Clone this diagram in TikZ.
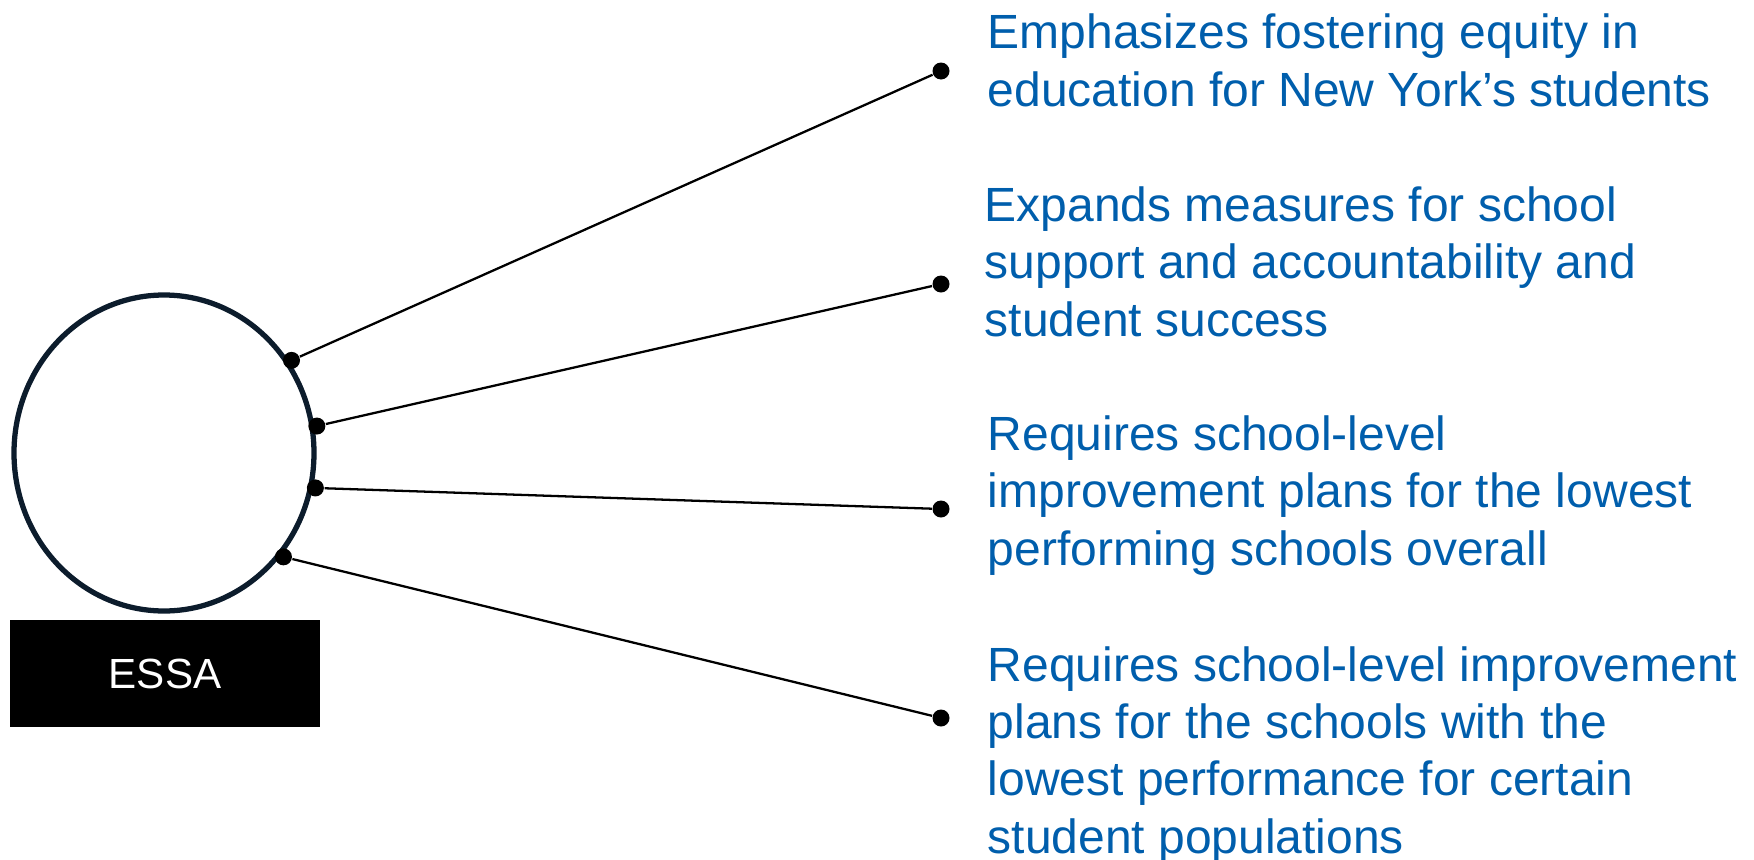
\documentclass[tikz,border=0pt]{standalone}
\usepackage{fontspec}
\setmainfont{Liberation Sans}
\usetikzlibrary{shapes.geometric}
\definecolor{essablue}{RGB}{0,94,172}
\definecolor{ringnavy}{RGB}{12,28,44}
\newcommand{\dotn}[1]{node[fill,circle,inner sep=0pt,minimum size=0.17cm] (#1) {}}

\begin{document}
\begin{tikzpicture}[item/.style={anchor=base west,inner sep=0pt,align=left,text=essablue,font=\fontsize{13.66}{16.3}\selectfont}]
\useasboundingbox (0,0) rectangle (17.54,8.59);
\node[ellipse,draw=ringnavy,line width=1.5pt,outer sep=0.05cm,minimum width=3.0cm,minimum height=3.16cm] (ring) at (1.64,4.06) {};
\node[fill=black,minimum width=3.1cm,minimum height=1.07cm,text=white,font=\fontsize{12}{14}\selectfont] (essa) at (1.65,1.855) {ESSA};
\foreach \i/\a/\y in {1/36.6/7.88,2/10.8/5.75,3/347.9/3.50,4/319.4/1.41} {
 \path (ring.\a) \dotn{c\i};
 \path (9.41,\y) \dotn{d\i};
 \draw[line width=0.65pt] (c\i) -- (d\i);
 }
% base anchor sits on the last line
\node[item] (t1) at (9.87,7.53) {Emphasizes fostering equity in\\education for New York’s students};
\node[item] (t2) at (9.84,5.23) {Expands measures for school\\support and accountability and\\student success};
\node[item] (t3) at (9.87,2.94) {Requires school-level\\improvement plans for the lowest\\performing schools overall};
\node[item] (t4) at (9.87,0.06) {Requires school-level improvement\\plans for the schools with the\\lowest performance for certain\\student populations};
\end{tikzpicture}
\end{document}
